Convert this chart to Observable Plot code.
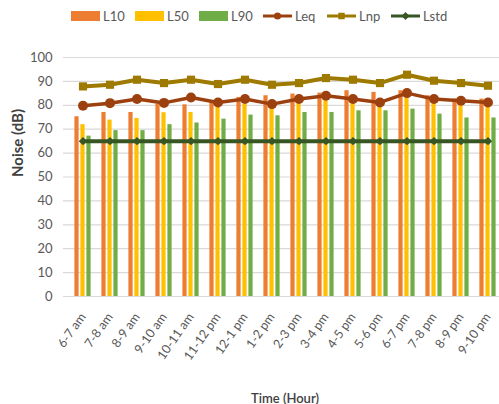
<!DOCTYPE html>
<html>
<head>
<meta charset="utf-8">
<script src="https://cdn.jsdelivr.net/npm/d3@7"></script>
<script src="https://cdn.jsdelivr.net/npm/@observablehq/plot@0.6"></script>
<style>
  html, body { margin: 0; padding: 0; background: #fff; }
  #wrap { width: 499px; height: 404px; overflow: hidden; position: relative;
          font-family: Lato, "Open Sans", sans-serif; }
  #legend { display: block; }
</style>
</head>
<body>
<div id="wrap"></div>
<script>
// Hourly periods
const times = ["6-7 am", "7-8 am", "8-9 am", "9-10 am", "10-11 am", "11-12 pm", "12-1 pm", "1-2 pm",
               "2-3 pm", "3-4 pm", "4-5 pm", "5-6 pm", "6-7 pm", "7-8 pm", "8-9 pm", "9-10 pm"];

// Noise levels in dB
const l10  = [75.2, 77.0, 77.0, 80.5, 80.2, 81.9, 83.3, 84.0, 84.7, 85.1, 86.1, 85.4, 86.1, 84.0, 82.6, 82.6];
const l50  = [71.9, 73.8, 74.5, 76.9, 77.0, 80.0, 80.5, 79.5, 81.0, 82.0, 81.0, 80.0, 83.0, 81.0, 80.0, 79.5];
const l90  = [67.1, 69.4, 69.4, 71.9, 72.6, 74.2, 75.9, 75.6, 77.0, 77.0, 77.7, 77.7, 78.4, 76.3, 74.7, 74.7];
const leq  = [79.8, 80.9, 82.6, 81.0, 83.3, 81.2, 82.6, 80.5, 82.6, 84.0, 82.6, 81.2, 85.1, 82.6, 81.9, 81.2];
const lnp  = [87.9, 88.6, 90.7, 89.3, 90.7, 88.9, 90.7, 88.6, 89.3, 91.4, 90.7, 89.3, 92.8, 90.3, 89.3, 88.2];
const lstd = [65, 65, 65, 65, 65, 65, 65, 65, 65, 65, 65, 65, 65, 65, 65, 65];

const yTicks = [0, 10, 20, 30, 40, 50, 60, 70, 80, 90, 100];
const seriesNames = ["L10", "L50", "L90", "Leq", "Lnp", "Lstd"];

const color = {
  L10: "#ed7d31", L50: "#ffc000", L90: "#70ad47",
  Leq: "#9c4010", Lnp: "#9e7a00", Lstd: "#375623"
};
const symbol = { Leq: "circle", Lnp: "square", Lstd: "diamond2" };
const symbolR = { Leq: 5, Lnp: 4.6, Lstd: 3.8 };

const rows = times.map((t, i) => ({
  time: t, L10: l10[i], L50: l50[i], L90: l90[i], Leq: leq[i], Lnp: lnp[i], Lstd: lstd[i]
}));

const font = "Lato, 'Open Sans', sans-serif";
const wrap = document.getElementById("wrap");

// Legend row
const legend = d3.create("svg").attr("id", "legend").attr("width", 499).attr("height", 32)
  .style("font-family", font);
seriesNames.forEach((name, i) => {
  const g = legend.append("g").attr("transform", `translate(${71 + i * 64},16)`);
  if (i < 3) {
    g.append("rect").attr("x", 0).attr("y", -5).attr("width", 29).attr("height", 10).attr("fill", color[name]);
  } else {
    g.append("line").attr("x1", 0).attr("x2", 29).attr("stroke", color[name]).attr("stroke-width", 3);
    g.append("path").attr("transform", "translate(14.5,0)")
      .attr("d", d3.symbol(name === "Leq" ? d3.symbolCircle : name === "Lnp" ? d3.symbolSquare : d3.symbolDiamond2, name === "Leq" ? 40 : 42)())
      .attr("fill", color[name]);
  }
  g.append("text").attr("x", 32).attr("y", 0).attr("dy", "0.35em")
    .attr("font-size", 13).attr("fill", "#595959").text(name);
});
wrap.appendChild(legend.node());

const bars = [
  { key: "L10", dx: -6 },
  { key: "L50", dx: 0 },
  { key: "L90", dx: 6 }
];
const lines = ["Leq", "Lnp", "Lstd"];

const chart = Plot.plot({
  width: 506,
  height: 372,
  marginTop: 25,
  marginBottom: 108,
  marginLeft: 63,
  marginRight: 0,
  style: { fontFamily: font, fontSize: "12px", color: "#595959", background: "transparent",
           maxWidth: "none", overflow: "visible" },
  x: { type: "band", domain: times, padding: 0, label: null },
  y: { domain: [0, 100], label: null },
  marks: [
    Plot.gridY(yTicks, { stroke: "#d9d9d9", strokeOpacity: 1, strokeWidth: 1.2 }),
    Plot.axisY(yTicks, { tickSize: 0, tickPadding: 11, fontSize: 13, fill: "#595959", label: null }),
    Plot.axisX({ tickSize: 0, tickRotate: -55, tickPadding: 18, fontSize: 12.5, fill: "#595959", label: null }),
    ...bars.map(b => Plot.barY(rows, {
      x: "time", y: b.key, fill: color[b.key], dx: b.dx, insetLeft: 11.4, insetRight: 11.4
    })),
    ...lines.map(k => Plot.line(rows, {
      x: "time", y: k, stroke: color[k], strokeWidth: k === "Leq" ? 3.5 : 4
    })),
    ...lines.map(k => Plot.dot(rows, {
      x: "time", y: k, fill: color[k], stroke: null, symbol: symbol[k], r: symbolR[k]
    })),
    Plot.text(["Noise (dB)"], { frameAnchor: "left", rotate: -90, dx: -45, fontSize: 15,
      fontWeight: "bold", fill: "#404040", letterSpacing: "0.6px" }),
    Plot.text(["Time (Hour)"], { frameAnchor: "bottom", dy: 106, fontSize: 13,
      fontWeight: 600, fill: "#404040" })
  ]
});
wrap.appendChild(chart);
</script>
</body>
</html>
